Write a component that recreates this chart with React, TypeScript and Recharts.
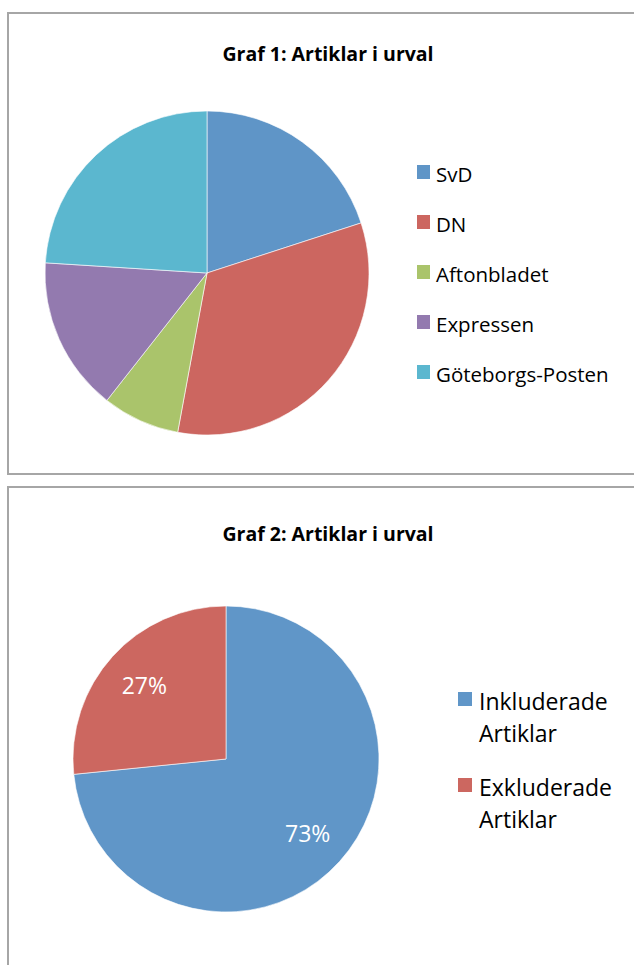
import { Cell, Legend, Pie, PieChart } from 'recharts'

const papers = ['SvD', 'DN', 'Aftonbladet', 'Expressen', 'Göteborgs-Posten']
const paperShares = [20.0, 32.9, 7.7, 15.4, 24.0]
const paperColors = ['#5f95c7', '#cc6660', '#aac46b', '#937aaf', '#5bb7cf']

const articleGroups = ['Inkluderade Artiklar', 'Exkluderade Artiklar']
const articleShares = [73.4, 26.6]
const articleColors = ['#6096c8', '#cc6760']

const paperData = papers.map((name, i) => ({ name, value: paperShares[i] }))
const articleData = articleGroups.map((name, i) => ({ name, value: articleShares[i] }))

const FONT = '"Open Sans", "DejaVu Sans", sans-serif'
const RAD = Math.PI / 180

// keep legend entries in data order instead of alphabetical
const byPaper = (item: any) => papers.indexOf(item.value)
const byGroup = (item: any) => articleGroups.indexOf(item.value)

function PaperLegend({ payload }: any) {
  return (
    <div style={{ fontFamily: FONT }}>
      {(payload ?? []).map((entry: any) => (
        <div key={entry.value} style={{ display: 'flex', alignItems: 'flex-start', height: 50 }}>
          <span style={{ width: 13, height: 14, background: paperColors[papers.indexOf(entry.value)], marginTop: 3, marginRight: 6, flex: 'none' }} />
          <span style={{ fontSize: 20.5, lineHeight: '24px', color: '#000' }}>{entry.value}</span>
        </div>
      ))}
    </div>
  )
}

function ArticleLegend({ payload }: any) {
  return (
    <div style={{ fontFamily: FONT }}>
      {(payload ?? []).map((entry: any) => (
        <div key={entry.value} style={{ display: 'flex', alignItems: 'flex-start', marginBottom: 22 }}>
          <span style={{ width: 14, height: 14, background: articleColors[articleGroups.indexOf(entry.value)], marginTop: 7, marginRight: 7, flex: 'none' }} />
          <span style={{ fontSize: 23, lineHeight: '32px', color: '#000', width: 140 }}>{entry.value}</span>
        </div>
      ))}
    </div>
  )
}

function renderPct({ cx, cy, midAngle, outerRadius, percent }: any) {
  const r = outerRadius * 0.72
  const x = cx + r * Math.cos(-midAngle * RAD)
  const y = cy + r * Math.sin(-midAngle * RAD)
  return (
    <text x={x} y={y} fill="#fff" textAnchor="middle" dominantBaseline="central" fontSize={23} fontFamily={FONT}>
      {`${Math.round(percent * 100)}%`}
    </text>
  )
}

const titleStyle = {
  position: 'absolute' as const,
  left: 0,
  width: 656,
  textAlign: 'center' as const,
  fontFamily: FONT,
  fontWeight: 700,
  fontSize: 19.5,
  lineHeight: '20px',
  color: '#000',
}

export default function App() {
  return (
    <div style={{ position: 'absolute', left: 0, top: 0, width: 634, height: 965, overflow: 'hidden', background: '#fff' }}>
      <div style={{ position: 'absolute', left: 7, top: 12, width: 627, height: 463, boxSizing: 'border-box', borderTop: '2px solid #a6a6a6', borderLeft: '2px solid #a6a6a6', borderBottom: '2px solid #a6a6a6' }} />
      <div style={{ position: 'absolute', left: 7, top: 486, width: 627, height: 479, boxSizing: 'border-box', borderTop: '2px solid #a6a6a6', borderLeft: '2px solid #a6a6a6' }} />

      <div style={{ ...titleStyle, top: 44 }}>Graf 1: Artiklar i urval</div>
      <div style={{ position: 'absolute', left: 0, top: 0 }}>
        <PieChart width={634} height={476} margin={{ top: 0, right: 0, bottom: 0, left: 0 }}>
          <Pie
            data={paperData}
            dataKey="value"
            nameKey="name"
            cx={207}
            cy={273}
            outerRadius={162}
            startAngle={90}
            endAngle={-270}
            stroke="#fff"
            strokeWidth={0.6}
            isAnimationActive={false}
          >
            {paperData.map((d, i) => (
              <Cell key={d.name} fill={paperColors[i]} />
            ))}
          </Pie>
          <Legend
            layout="vertical"
            align="right"
            verticalAlign="top"
            itemSorter={byPaper}
            content={<PaperLegend />}
            wrapperStyle={{ left: 417, top: 162, width: 210 }}
          />
        </PieChart>
      </div>

      <div style={{ ...titleStyle, top: 524 }}>Graf 2: Artiklar i urval</div>
      <div style={{ position: 'absolute', left: 0, top: 476 }}>
        <PieChart width={634} height={489} margin={{ top: 0, right: 0, bottom: 0, left: 0 }}>
          <Pie
            data={articleData}
            dataKey="value"
            nameKey="name"
            cx={226}
            cy={283}
            outerRadius={153}
            startAngle={90}
            endAngle={-270}
            stroke="#fff"
            strokeWidth={0.6}
            label={renderPct}
            labelLine={false}
            isAnimationActive={false}
          >
            {articleData.map((d, i) => (
              <Cell key={d.name} fill={articleColors[i]} />
            ))}
          </Pie>
          <Legend
            layout="vertical"
            align="right"
            verticalAlign="top"
            itemSorter={byGroup}
            content={<ArticleLegend />}
            wrapperStyle={{ left: 458, top: 209, width: 176 }}
          />
        </PieChart>
      </div>
    </div>
  )
}
